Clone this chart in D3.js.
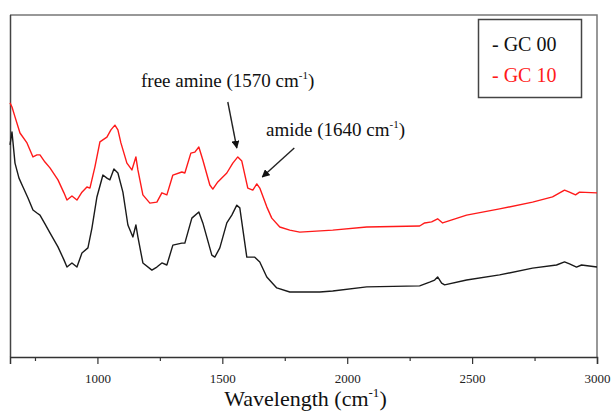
<!DOCTYPE html>
<html>
<head>
<meta charset="utf-8">
<script src="https://cdn.jsdelivr.net/npm/d3@7"></script>
<style>
  body { margin: 0; background: #fff; }
  svg { display: block; font-family: "Liberation Serif", "Times New Roman", serif; }
</style>
</head>
<body>
<div id="chart"></div>
<script>
// FTIR spectra (arbitrary units)
const gc00Wavenumber = [650, 658, 670, 686, 702, 722, 742, 758, 770, 790, 810, 842, 866, 878, 898, 918, 938, 962, 978, 998,
  1022, 1038, 1050, 1066, 1082, 1102, 1122, 1142, 1154, 1162, 1182, 1218, 1238, 1258, 1278, 1302, 1338, 1350, 1378, 1406,
  1422, 1458, 1470, 1490, 1518, 1538, 1558, 1570, 1598, 1630, 1650, 1678, 1718, 1770, 1890, 1942, 2078, 2290, 2330, 2350,
  2362, 2378, 2390, 2478, 2610, 2742, 2838, 2870, 2890, 2918, 2938, 3000];
const gc00Values = [62.0, 65.8, 56.7, 52.3, 49.7, 46.5, 43.0, 42.1, 41.5, 38.9, 36.3, 32.2, 28.4, 26.3, 27.5, 26.3, 30.4, 31.9, 37.7, 46.8,
  53.2, 52.3, 51.8, 55.0, 53.8, 48.2, 38.6, 35.1, 38.6, 35.1, 27.5, 25.4, 26.3, 27.5, 26.9, 32.7, 33.3, 33.3, 40.6, 42.4,
  39.2, 29.8, 29.2, 31.9, 39.2, 41.5, 44.4, 43.6, 29.2, 29.2, 27.8, 23.4, 20.2, 19.0, 19.0, 19.3, 20.5, 20.8, 21.9, 22.5,
  23.4, 21.6, 21.1, 22.5, 24.0, 26.0, 26.9, 27.8, 27.2, 26.3, 26.9, 26.3];

const gc10Wavenumber = [650, 658, 670, 690, 718, 742, 758, 770, 790, 810, 842, 866, 878, 898, 918, 938, 958, 970, 990, 1010,
  1038, 1054, 1070, 1082, 1094, 1118, 1138, 1154, 1162, 1182, 1210, 1238, 1258, 1278, 1302, 1338, 1350, 1374, 1390, 1406,
  1422, 1450, 1462, 1482, 1518, 1542, 1562, 1578, 1602, 1622, 1638, 1650, 1678, 1698, 1730, 1770, 1810, 1942, 2078, 2290,
  2310, 2338, 2362, 2382, 2478, 2610, 2742, 2822, 2870, 2890, 2914, 2930, 3000];
const gc10Values = [74.3, 73.1, 70.2, 65.5, 62.6, 58.5, 59.1, 59.1, 57.0, 55.3, 51.8, 48.0, 45.9, 47.1, 45.9, 48.2, 49.7, 49.4, 55.6, 62.9,
  64.3, 66.4, 67.8, 66.4, 62.6, 56.7, 54.7, 58.5, 54.7, 47.4, 45.0, 45.3, 48.0, 47.4, 53.2, 54.1, 53.8, 59.6, 59.9, 61.4,
  57.6, 50.3, 49.1, 51.2, 53.8, 56.7, 58.5, 57.3, 49.4, 48.8, 50.6, 49.4, 43.9, 40.6, 38.0, 37.1, 36.5, 37.1, 38.0, 38.3,
  39.2, 39.5, 40.4, 39.2, 41.5, 43.3, 45.3, 46.8, 48.8, 48.2, 47.4, 48.2, 48.0];

const majorTicks = [1000, 1500, 2000, 2500, 3000];
const minorTicks = [750, 1250, 1750, 2250, 2750];
const seriesNames = ["GC 00", "GC 10"];
const seriesColors = ["#1a1a1a", "#ff1a1a"];

const width = 613, height = 412;
const margin = { top: 15, right: 16, bottom: 55, left: 10 };
const serif = "Liberation Serif, Times New Roman, serif";

const svg = d3.select("#chart").append("svg")
    .attr("width", width)
    .attr("height", height)
    .attr("font-family", serif);

const x = d3.scaleLinear()
    .domain([650, 3000])
    .range([margin.left, width - margin.right]);

const y = d3.scaleLinear()
    .domain([0, 100])
    .range([height - margin.bottom, margin.top]);

const plotBottom = height - margin.bottom;
const plotRight = width - margin.right;

// frame: top and right in grey, left and bottom axes darker
svg.append("path")
    .attr("d", `M${margin.left},${margin.top}H${plotRight}V${plotBottom}`)
    .attr("fill", "none")
    .attr("stroke", "#777")
    .attr("stroke-width", 1.5);

svg.append("line")
    .attr("x1", margin.left + 0.5).attr("x2", margin.left + 0.5)
    .attr("y1", margin.top).attr("y2", plotBottom)
    .attr("stroke", "#444")
    .attr("stroke-width", 1.5);

const xAxis = svg.append("g")
    .attr("transform", `translate(0,${plotBottom})`)
    .call(d3.axisBottom(x).tickValues(majorTicks).tickSize(7).tickPadding(10).tickFormat(d3.format("d")));
xAxis.attr("font-family", serif);
xAxis.select(".domain").attr("stroke", "#333").attr("stroke-width", 1.5);
xAxis.selectAll(".tick line").attr("stroke", "#333").attr("stroke-width", 1.2);
xAxis.selectAll("text")
    .attr("font-family", serif)
    .attr("font-size", 13)
    .attr("fill", "#222");

svg.append("g")
    .attr("transform", `translate(0,${plotBottom})`)
    .call(d3.axisBottom(x).tickValues(minorTicks).tickSize(4).tickFormat(""))
    .call(g => g.select(".domain").remove())
    .selectAll(".tick line").attr("stroke", "#333").attr("stroke-width", 1.2);

// axis title
const xTitle = svg.append("text")
    .attr("x", (margin.left + plotRight) / 2 + 2)
    .attr("y", 406)
    .attr("text-anchor", "middle")
    .attr("font-size", 22)
    .attr("fill", "#111");
xTitle.append("tspan").text("Wavelength (cm");
xTitle.append("tspan").attr("font-size", 13).attr("dy", -9).text("-1");
xTitle.append("tspan").attr("dy", 9).text(")");

// spectra
const line = d3.line()
    .x(d => x(d[0]))
    .y(d => y(d[1]));

const spectra = [
  d3.zip(gc00Wavenumber, gc00Values),
  d3.zip(gc10Wavenumber, gc10Values)
];

svg.selectAll("path.spectrum")
  .data(spectra)
  .join("path")
    .attr("class", "spectrum")
    .attr("d", line)
    .attr("fill", "none")
    .attr("stroke", (d, i) => seriesColors[i])
    .attr("stroke-width", 1.4)
    .attr("stroke-linejoin", "round");

// legend
svg.append("rect")
    .attr("x", 478.5).attr("y", 19.5)
    .attr("width", 103).attr("height", 78)
    .attr("fill", "#fff")
    .attr("stroke", "#444")
    .attr("stroke-width", 1.5);

svg.selectAll("text.legend")
  .data(seriesNames)
  .join("text")
    .attr("class", "legend")
    .attr("x", 492)
    .attr("y", (d, i) => 51 + i * 31)
    .attr("font-size", 20)
    .attr("fill", (d, i) => i === 0 ? "#111" : "#ff1a1a")
    .text(d => "- " + d);

// annotations with arrows
const defs = svg.append("defs");
defs.append("marker")
    .attr("id", "arrowhead")
    .attr("viewBox", "0 0 10 10")
    .attr("refX", 9).attr("refY", 5)
    .attr("markerWidth", 8).attr("markerHeight", 8)
    .attr("markerUnits", "userSpaceOnUse")
    .attr("orient", "auto")
  .append("path")
    .attr("d", "M0,0L10,5L0,10Z")
    .attr("fill", "#111");

const annotations = [
  { text: "free amine (1570 cm", wn: 1570 },
  { text: "amide (1640 cm", wn: 1640 }
];

function addLabel(tx, ty, label) {
  const t = svg.append("text")
      .attr("x", tx).attr("y", ty)
      .attr("font-size", 19)
      .attr("fill", "#111");
  t.append("tspan").text(label);
  t.append("tspan").attr("font-size", 11).attr("dy", -8).text("-1");
  t.append("tspan").attr("dy", 8).text(")");
}

addLabel(141, 87, annotations[0].text);
addLabel(266, 136, annotations[1].text);

svg.append("line")
    .attr("x1", x(annotations[0].wn) - 12).attr("y1", 102)
    .attr("x2", x(annotations[0].wn) - 3).attr("y2", 148)
    .attr("stroke", "#222")
    .attr("stroke-width", 1.4)
    .attr("marker-end", "url(#arrowhead)");

svg.append("line")
    .attr("x1", x(annotations[1].wn) + 37).attr("y1", 148)
    .attr("x2", x(annotations[1].wn) + 5).attr("y2", 177)
    .attr("stroke", "#222")
    .attr("stroke-width", 1.4)
    .attr("marker-end", "url(#arrowhead)");
</script>
</body>
</html>
